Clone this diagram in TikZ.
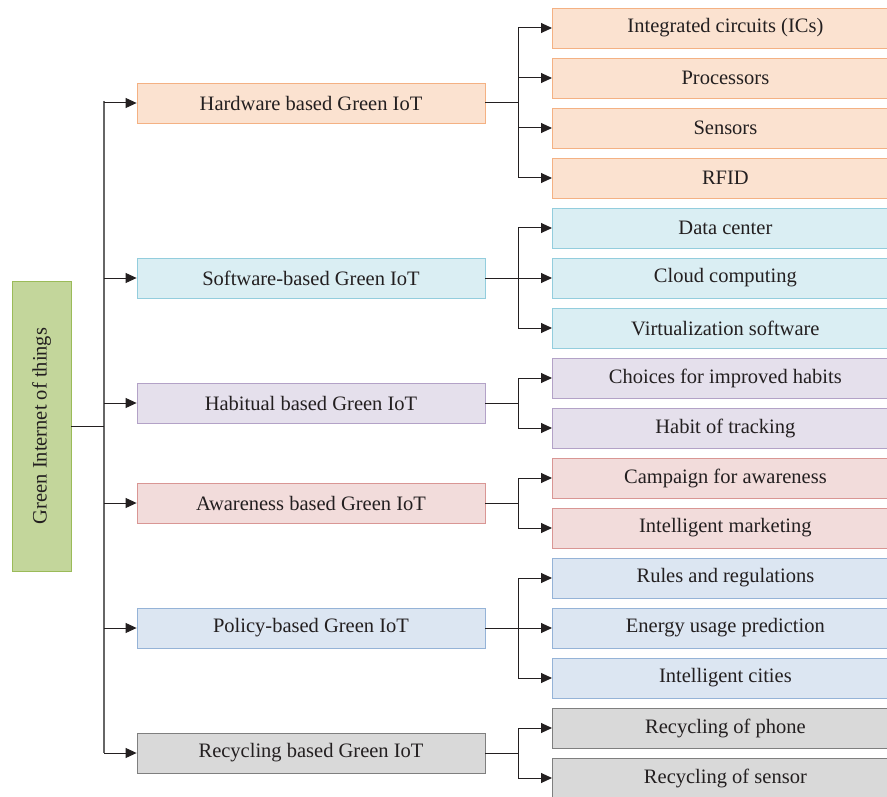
\documentclass[tikz,border=0pt]{standalone}
\usepackage{fontspec}
\setmainfont{Liberation Serif}
\usetikzlibrary{arrows.meta}
\definecolor{orF}{HTML}{FBE2D0}\definecolor{orD}{HTML}{F4B183}
\definecolor{blF}{HTML}{DAEEF3}\definecolor{blD}{HTML}{93CDDD}
\definecolor{puF}{HTML}{E5E0EC}\definecolor{puD}{HTML}{B3A2C7}
\definecolor{reF}{HTML}{F2DCDB}\definecolor{reD}{HTML}{D99694}
\definecolor{bbF}{HTML}{DCE6F2}\definecolor{bbD}{HTML}{95B3D7}
\definecolor{grF}{HTML}{D9D9D9}\definecolor{grD}{HTML}{7F7F7F}
\definecolor{gnF}{HTML}{C3D69B}\definecolor{gnD}{HTML}{9BBB59}
\definecolor{ln}{HTML}{231F20}
\definecolor{tx}{HTML}{231F20}
\tikzset{
  box/.style={draw, line width=0.8pt, minimum height=40pt, inner sep=0pt, font=\fontsize{20.5}{24}\selectfont, text=tx},
  mid/.style={box, minimum width=348pt},
  leaf/.style={box, minimum width=360pt, anchor=west},
  conn/.style={draw=ln, line width=1pt},
  arr/.style={conn, -{Triangle[length=11pt,width=10pt]}},
}
\begin{document}
\begin{tikzpicture}[x=1pt,y=-1pt]
\useasboundingbox (0,0) rectangle (887,797);
\begin{scope}
\clip (0,0) rectangle (887,797);
\node[box, fill=gnF, draw=gnD, minimum width=59pt, minimum height=290pt] (root) at (41.5,426) {};
\node[rotate=90, font=\fontsize{20.5}{24}\selectfont, text=tx] (roottext) at (root.center) {Green Internet of things};
% middle
\node[mid, fill=orF, draw=orD] (hw) at (311,103) {Hardware based Green IoT};
\node[mid, fill=blF, draw=blD] (sw) at (311,278) {Software-based Green IoT};
\node[mid, fill=puF, draw=puD] (hb) at (311,403) {Habitual based Green IoT};
\node[mid, fill=reF, draw=reD] (aw) at (311,503) {Awareness based Green IoT};
\node[mid, fill=bbF, draw=bbD] (po) at (311,628) {Policy-based Green IoT};
\node[mid, fill=grF, draw=grD] (rc) at (311,753) {Recycling based Green IoT};
% leaves
\node[leaf, fill=orF, draw=orD] (l1) at (552,28) {\hspace*{-14pt}Integrated circuits (ICs)};
\node[leaf, fill=orF, draw=orD] (l2) at (552,78) {\hspace*{-14pt}Processors};
\node[leaf, fill=orF, draw=orD] (l3) at (552,128) {\hspace*{-14pt}Sensors};
\node[leaf, fill=orF, draw=orD] (l4) at (552,178) {\hspace*{-14pt}RFID};
\node[leaf, fill=blF, draw=blD] (l5) at (552,228) {\hspace*{-14pt}Data center};
\node[leaf, fill=blF, draw=blD] (l6) at (552,278) {\hspace*{-14pt}Cloud computing};
\node[leaf, fill=blF, draw=blD] (l7) at (552,328) {\hspace*{-14pt}Virtualization software};
\node[leaf, fill=puF, draw=puD] (l8) at (552,378) {\hspace*{-14pt}Choices for improved habits};
\node[leaf, fill=puF, draw=puD] (l9) at (552,428) {\hspace*{-14pt}Habit of tracking};
\node[leaf, fill=reF, draw=reD] (l10) at (552,478) {\hspace*{-14pt}Campaign for awareness};
\node[leaf, fill=reF, draw=reD] (l11) at (552,528) {\hspace*{-14pt}Intelligent marketing};
\node[leaf, fill=bbF, draw=bbD] (l12) at (552,578) {\hspace*{-14pt}Rules and regulations};
\node[leaf, fill=bbF, draw=bbD] (l13) at (552,628) {\hspace*{-14pt}Energy usage prediction};
\node[leaf, fill=bbF, draw=bbD] (l14) at (552,678) {\hspace*{-14pt}Intelligent cities};
\node[leaf, fill=grF, draw=grD] (l15) at (552,728) {\hspace*{-14pt}Recycling of phone};
\node[leaf, fill=grF, draw=grD] (l16) at (552,778) {\hspace*{-14pt}Recycling of sensor};
\end{scope}
% root trunk
\coordinate (rj) at (104,426);
\draw[conn, draw=black!60, line width=1.3pt] (104,101) -- (104,753);
\draw[conn] (root.east) -- (rj);
\foreach \m in {hw,sw,hb,aw,po,rc}{
  \draw[arr] (rj |- \m.west) -- (\m.west);
}
% branches
\foreach \m/\list in {hw/{l1,l2,l3,l4}, sw/{l5,l6,l7}, hb/{l8,l9}, aw/{l10,l11}, po/{l12,l13,l14}, rc/{l15,l16}}{
  \coordinate (j) at (518,0);
  \draw[conn] (\m.east) -- (j |- \m.east);
  \foreach \l in \list {
    \draw[arr] (j |- \m.east) |- (\l.west);
  }
}
\end{tikzpicture}
\end{document}
